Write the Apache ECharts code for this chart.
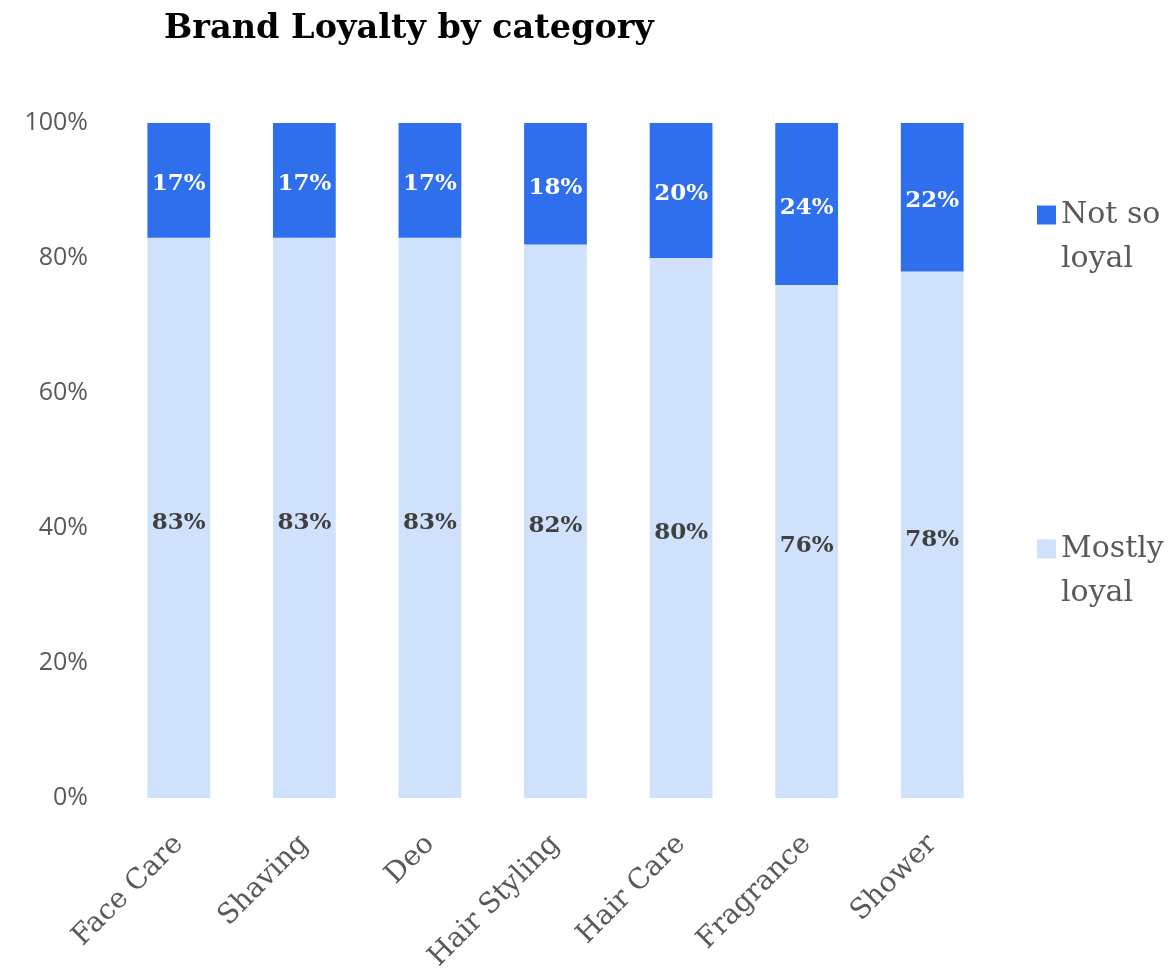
<!DOCTYPE html>
<html>
<head>
<meta charset="utf-8">
<script src="https://cdn.jsdelivr.net/npm/echarts@6/dist/echarts.min.js"></script>
<style>
  html, body { margin: 0; padding: 0; background: #fff; }
  #chart { width: 1176px; height: 977px; }
</style>
</head>
<body>
<div id="chart"></div>
<script>
// Share of buyers per category, in percent
const categories = ['Face Care', 'Shaving', 'Deo', 'Hair Styling', 'Hair Care', 'Fragrance', 'Shower'];
const mostlyLoyal = [83, 83, 83, 82, 80, 76, 78];
const notSoLoyal = [17, 17, 17, 18, 20, 24, 22];
const yTicks = [0, 20, 40, 60, 80, 100];

const serif = '"DejaVu Serif", "Liberation Serif", serif';
const sans = '"Open Sans", "Noto Sans", sans-serif';
const darkBlue = '#2F6FEE';
const lightBlue = '#D0E1FB';

// Legend entries: a leading blank line keeps the icon level with the first line of the name
function legendBlock(name, top) {
  return {
    data: [{ name: name, icon: 'rect' }],
    left: 1032, top: top, orient: 'vertical',
    itemWidth: 19, itemHeight: 19,
    formatter: n => '\n' + n,
    textStyle: { fontFamily: serif, fontSize: 30, color: '#595959', lineHeight: 44 }
  };
}

const chart = echarts.init(document.getElementById('chart'));
chart.setOption({
  animation: false,
  title: {
    text: 'Brand Loyalty by category',
    left: 159,
    top: 7,
    textStyle: { fontFamily: serif, fontWeight: 'bold', fontSize: 33.5, color: '#000' }
  },
  legend: [
    legendBlock('Not so\nloyal', 144),
    legendBlock('Mostly\nloyal', 478)
  ],
  grid: { left: 116, right: 181, top: 123, bottom: 179, containLabel: false },
  xAxis: {
    type: 'category',
    data: categories,
    axisLine: { show: false },
    axisTick: { show: false },
    axisLabel: {
      rotate: 45, margin: 42, interval: 0,
      fontFamily: serif, fontSize: 28, color: '#595959'
    }
  },
  yAxis: {
    type: 'value',
    min: yTicks[0], max: yTicks[yTicks.length - 1], interval: 20,
    splitLine: { show: false },
    axisLine: { show: false },
    axisTick: { show: false },
    axisLabel: {
      margin: 28,
      fontFamily: sans, fontSize: 25, color: '#595959',
      formatter: v => v + '%'
    }
  },
  series: [
    {
      name: 'Mostly\nloyal',
      type: 'bar', stack: 'total', barWidth: '50%',
      data: mostlyLoyal,
      itemStyle: { color: lightBlue },
      label: {
        show: true, position: 'inside', offset: [0, 5],
        fontFamily: serif, fontWeight: 'bold', fontSize: 23, color: '#404040',
        formatter: p => p.value + '%'
      }
    },
    {
      name: 'Not so\nloyal',
      type: 'bar', stack: 'total', barWidth: '50%',
      data: notSoLoyal,
      itemStyle: { color: darkBlue },
      label: {
        show: true, position: 'inside', offset: [0, 4],
        fontFamily: serif, fontWeight: 'bold', fontSize: 23, color: '#fff',
        formatter: p => p.value + '%'
      }
    }
  ]
});
</script>
</body>
</html>
